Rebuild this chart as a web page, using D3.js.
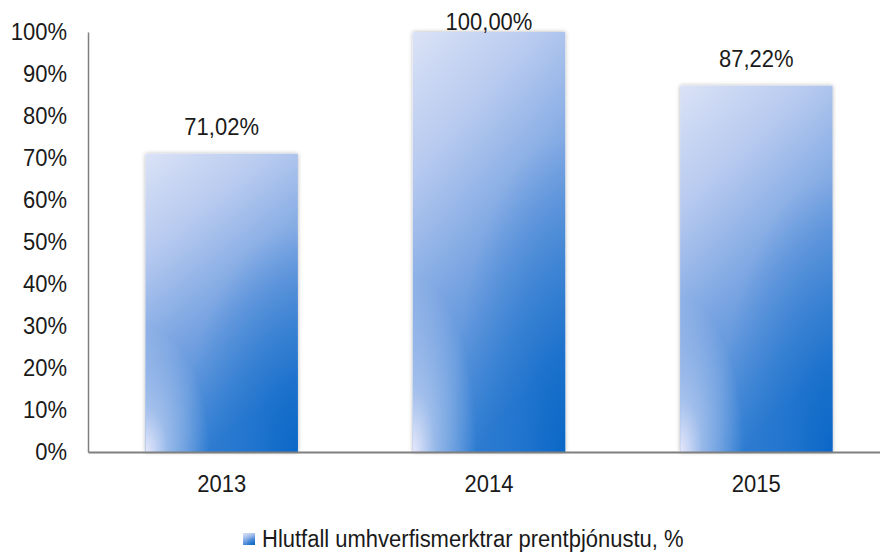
<html>
<head>
  <style>
    body { margin: 0; background-color: #ffffff; }
    text { font-family: 'Liberation Sans', Arial, sans-serif; fill: #1a1a1a; }
  </style>
  <script src="https://d3js.org/d3.v7.min.js"></script>
</head>
<body>
  <div id="chart-container"></div>
  <script>
    // data
    const years = ["2013", "2014", "2015"];
    const shares = [71.02, 100.00, 87.22];
    const yTicks = [0, 10, 20, 30, 40, 50, 60, 70, 80, 90, 100];
    const seriesName = "Hlutfall umhverfismerktrar prentþjónustu, %";

    const width = 880, height = 554;
    const margin = { top: 32, right: -10, bottom: 102, left: 88 };
    const stretch = "scale(1,1.12)"; // reference text is a bit taller than Arial

    const svg = d3.select("#chart-container")
      .append("svg")
      .attr("width", width)
      .attr("height", height);

    const defs = svg.append("defs");

    // base gradient: pale lavender at top to blue at bottom
    const base = defs.append("linearGradient")
      .attr("id", "barBase")
      .attr("x1", 0).attr("y1", 0).attr("x2", 0.4).attr("y2", 1);
    base.append("stop").attr("offset", "0%").attr("stop-color", "#dae2f6");
    base.append("stop").attr("offset", "30%").attr("stop-color", "#b6c9ef");
    base.append("stop").attr("offset", "65%").attr("stop-color", "#72a0e0");
    base.append("stop").attr("offset", "100%").attr("stop-color", "#3580d3");

    // dark corner at bottom right
    const dark = defs.append("radialGradient")
      .attr("id", "barDark")
      .attr("cx", 1).attr("cy", 1).attr("r", 0.75).attr("fx", 1).attr("fy", 1);
    dark.append("stop").attr("offset", "0%").attr("stop-color", "#0a67c7").attr("stop-opacity", 1);
    dark.append("stop").attr("offset", "40%").attr("stop-color", "#0a67c7").attr("stop-opacity", 0.45);
    dark.append("stop").attr("offset", "100%").attr("stop-color", "#0a67c7").attr("stop-opacity", 0);

    // light corner at bottom left
    const light = defs.append("radialGradient")
      .attr("id", "barLight")
      .attr("cx", 0).attr("cy", 1).attr("r", 0.42).attr("fx", 0).attr("fy", 1);
    light.append("stop").attr("offset", "0%").attr("stop-color", "#e6e8fb").attr("stop-opacity", 1);
    light.append("stop").attr("offset", "35%").attr("stop-color", "#e6e8fb").attr("stop-opacity", 0.5);
    light.append("stop").attr("offset", "100%").attr("stop-color", "#e6e8fb").attr("stop-opacity", 0);

    const shadow = defs.append("filter")
      .attr("id", "shadow")
      .attr("x", "-10%").attr("y", "-5%").attr("width", "120%").attr("height", "110%");
    shadow.append("feDropShadow")
      .attr("dx", 0).attr("dy", 0).attr("stdDeviation", 2.2)
      .attr("flood-color", "#000").attr("flood-opacity", 0.3);

    const x = d3.scaleBand()
      .domain(years)
      .range([margin.left, width - margin.right])
      .paddingInner(0.43)
      .paddingOuter(0.215);

    const y = d3.scaleLinear()
      .domain([0, 100])
      .range([height - margin.bottom, margin.top]);

    const data = years.map((yr, i) => ({ year: yr, value: shares[i] }));

    // bars, drawn as 3 layered rects each
    const bars = svg.selectAll(".bar")
      .data(data)
      .enter()
      .append("g")
      .attr("class", "bar");

    bars.append("rect")
      .attr("x", d => x(d.year))
      .attr("y", d => y(d.value))
      .attr("width", x.bandwidth())
      .attr("height", d => y(0) - y(d.value))
      .attr("fill", "url(#barBase)")
      .attr("filter", "url(#shadow)");

    ["url(#barDark)", "url(#barLight)"].forEach(fill => {
      bars.append("rect")
        .attr("x", d => x(d.year))
        .attr("y", d => y(d.value))
        .attr("width", x.bandwidth())
        .attr("height", d => y(0) - y(d.value))
        .attr("fill", fill);
    });

    // value labels (the top one gets pushed down onto the bar, as in the reference)
    bars.append("text")
      .attr("transform", d => {
        const ty = Math.max(y(d.value) - 19, margin.top - 2);
        return `translate(${x(d.year) + x.bandwidth() / 2},${ty}) ${stretch}`;
      })
      .attr("text-anchor", "middle")
      .style("font-size", "22px")
      .text(d => d.value.toFixed(2).replace(".", ",") + "%");

    // y axis
    const yAxis = d3.axisLeft(y)
      .tickValues(yTicks)
      .tickSize(0)
      .tickPadding(21)
      .tickFormat(d => d + "%");

    const gy = svg.append("g")
      .attr("transform", `translate(${margin.left},0)`)
      .call(yAxis);
    gy.select(".domain").attr("stroke", "#7f7f7f").attr("stroke-width", 1.5);
    gy.selectAll("text")
      .style("font-size", "22px")
      .attr("transform", stretch)
      .attr("fill", "#1a1a1a");

    // x axis
    const xAxis = d3.axisBottom(x).tickSize(0).tickPadding(22);
    const gx = svg.append("g")
      .attr("transform", `translate(0,${y(0)})`)
      .call(xAxis);
    gx.select(".domain").attr("stroke", "#7f7f7f").attr("stroke-width", 2);
    gx.selectAll("text")
      .style("font-size", "22px")
      .attr("dy", 0)
      .attr("y", 0)
      .attr("transform", `translate(0,40) ${stretch}`)
      .attr("fill", "#1a1a1a");

    // legend
    const legend = svg.append("g").attr("transform", "translate(243,533)");
    legend.append("rect")
      .attr("width", 12).attr("height", 12)
      .attr("fill", "url(#barBase)");
    legend.append("rect")
      .attr("width", 12).attr("height", 12)
      .attr("fill", "url(#barDark)");
    legend.append("text")
      .attr("transform", `translate(19,14) ${stretch}`)
      .style("font-size", "22px")
      .text(seriesName);
  </script>
</body>
</html>
